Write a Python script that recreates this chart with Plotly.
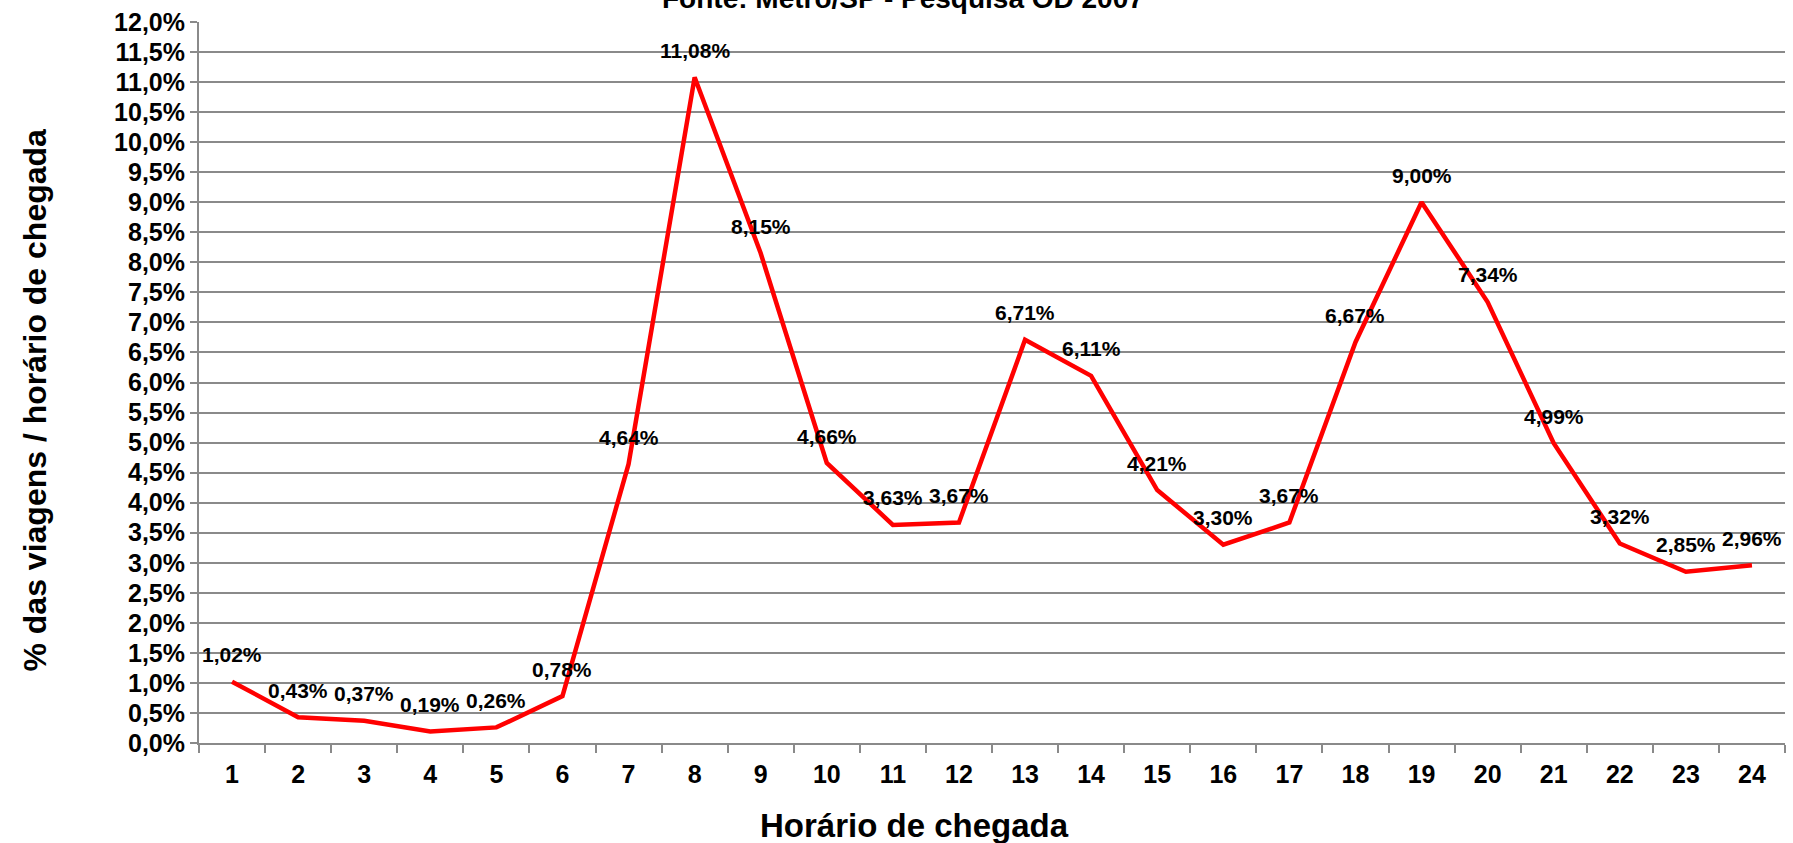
import plotly.graph_objects as go

# Share of trips by arrival hour (Metrô/SP, Pesquisa OD 2007)
horas = [str(h) for h in range(1, 25)]
percentuais = [1.02, 0.43, 0.37, 0.19, 0.26, 0.78, 4.64, 11.08, 8.15, 4.66, 3.63, 3.67,
               6.71, 6.11, 4.21, 3.30, 3.67, 6.67, 9.00, 7.34, 4.99, 3.32, 2.85, 2.96]
rotulos = [f"{v:.2f}%".replace(".", ",") for v in percentuais]

titulo_fonte = "Fonte: Metrô/SP - Pesquisa OD 2007"
titulo_x = "Horário de chegada"
titulo_y = "% das viagens / horário de chegada"

GRID = "#8a8a8a"
SANS = "Liberation Sans, Arial, sans-serif"
AXIS_FONT = dict(family=SANS, size=25, color="black")
LABEL_FONT = dict(family="Liberation Sans Narrow, Arial Narrow, Liberation Sans, sans-serif",
                  size=21, color="black")

fig = go.Figure()
fig.add_trace(go.Scatter(
    x=horas, y=percentuais, mode="lines",
    line=dict(color="#ff0000", width=4.5),
    hoverinfo="skip", showlegend=False,
))

# value labels above each point (category axis: position by index)
for i, (v, t) in enumerate(zip(percentuais, rotulos)):
    fig.add_annotation(x=i, y=v, xref="x", yref="y", text=f"<b>{t}</b>",
                       showarrow=False, yshift=27, font=LABEL_FONT)

fig.add_annotation(x=0.444, y=1, xref="paper", yref="paper", text=f"<b>{titulo_fonte}</b>",
                   showarrow=False, yshift=24, yanchor="middle",
                   font=dict(family=SANS, size=28, color="black"))
fig.add_annotation(x=0.451, y=0, xref="paper", yref="paper", text=f"<b>{titulo_x}</b>",
                   showarrow=False, yshift=-82, yanchor="middle",
                   font=dict(family=SANS, size=33, color="black"))
fig.add_annotation(x=0, y=0.475, xref="paper", yref="paper", text=f"<b>{titulo_y}</b>",
                   showarrow=False, xshift=-164, xanchor="center", textangle=-90,
                   font=dict(family=SANS, size=32, color="black"))

fig.update_xaxes(
    type="category", tickson="boundaries", ticks="outside", ticklen=8, tickwidth=2,
    tickcolor=GRID, showline=True, linecolor=GRID, linewidth=2, showgrid=False,
    tickfont=AXIS_FONT, tickprefix="<b>", ticksuffix="</b>", ticklabelstandoff=8,
    range=[-0.5, 23.5],
)
fig.update_yaxes(
    range=[0, 12], dtick=0.5, tick0=0, tickformat=".1f", ticksuffix="%</b>", tickprefix="<b>",
    ticks="outside", ticklen=7, tickwidth=2, tickcolor=GRID,
    showline=True, linecolor=GRID, linewidth=2,
    showgrid=True, gridcolor=GRID, gridwidth=2, zeroline=False,
    tickfont=AXIS_FONT,
)
fig.update_layout(
    width=1793, height=843, separators=",.",
    margin=dict(l=199, r=8, t=19, b=100),
    plot_bgcolor="white", paper_bgcolor="white",
)

fig.write_html("out.html")
